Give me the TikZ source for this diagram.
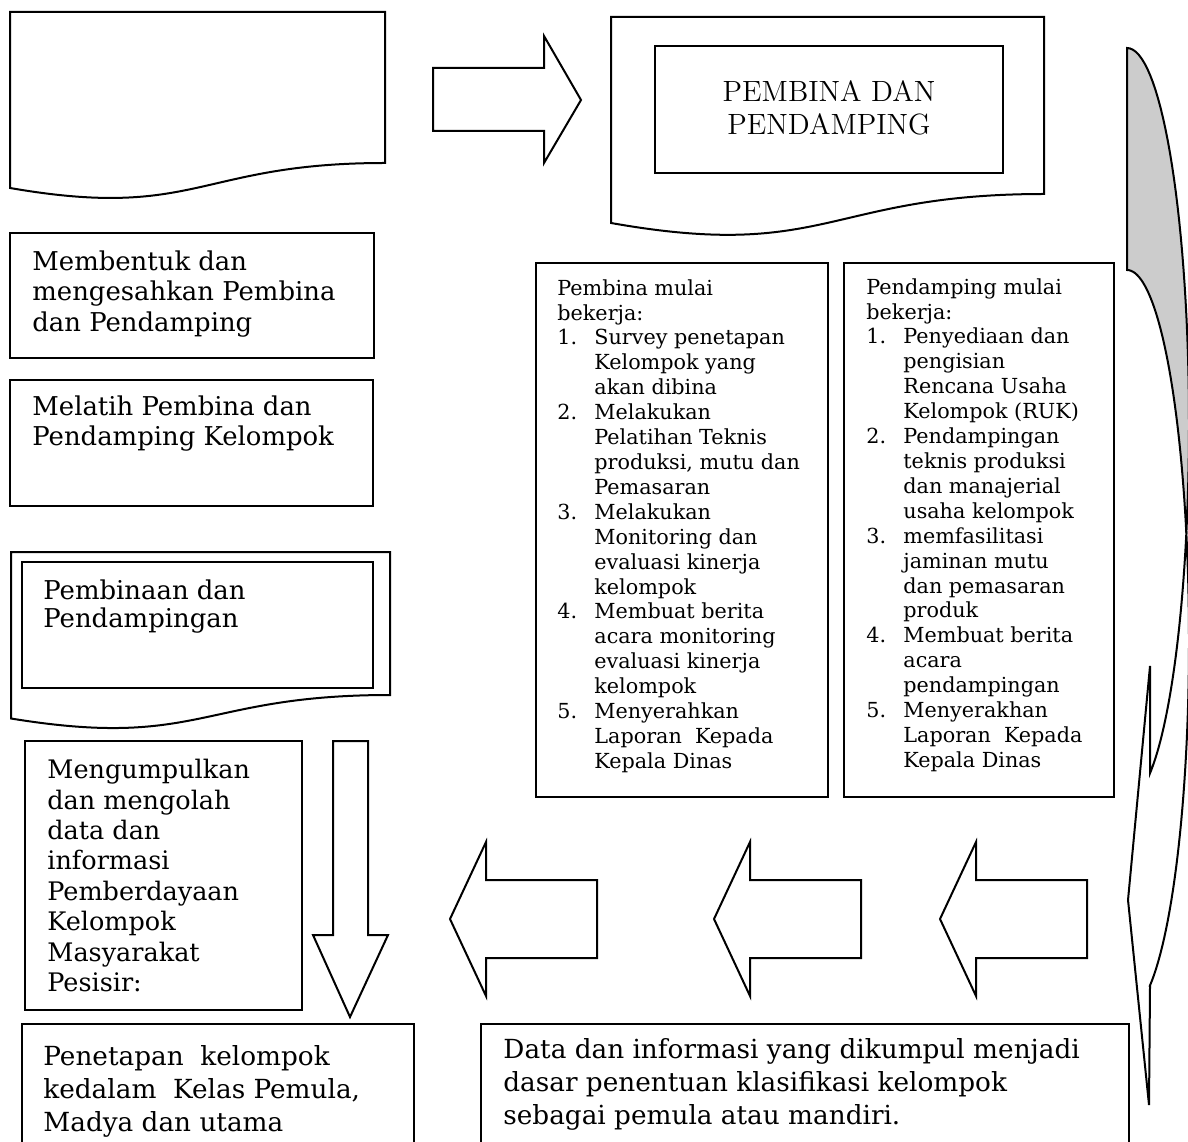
\documentclass[tikz,border=0pt]{standalone}
\usepackage{fontspec}
\newfontfamily\bodyfont{DejaVu Serif}
\newcommand\numitem[1]{\makebox[18.5bp][l]{#1}}

\begin{document}
\begin{tikzpicture}[x=0.5bp,y=-0.5bp,
  tepi/.style={draw,line width=1bp,line join=miter},
  bigtxt/.style={anchor=north west,inner sep=0pt,align=left,font=\bodyfont\fontsize{13}{15.5}\selectfont},
  smalltxt/.style={anchor=north west,inner sep=0pt,align=left,font=\bodyfont\fontsize{10.4}{12.5}\selectfont}]
\clip (0,0) rectangle (1188,1142);
% top row
\draw[tepi] (10,12) -- (385,12) -- (385,163) .. controls (197.5,163) and (197.5,220.5) .. (10,188) -- cycle;
\draw[tepi] (433,68) -- (544,68) -- (544,36) -- (581,100) -- (544,163) -- (544,131) -- (433,131) -- cycle;
\draw[tepi] (611,17) -- (1044,17) -- (1044,194) .. controls (827.5,194) and (827.5,261.4) .. (611,223) -- cycle;
\draw[tepi] (655,46) rectangle (1003,173);
\node[font=\fontsize{14.7}{16.5}\selectfont,align=center,inner sep=0pt] (judul) at (829,108) {PEMBINA DAN\\PENDAMPING};

% left column
\draw[tepi] (10,233) rectangle (374,358);
\node[bigtxt] (membentuk) at (32,250) {Membentuk dan\\mengesahkan Pembina\\dan Pendamping};
\draw[tepi] (10,380) rectangle (373,506);
\node[bigtxt] (melatih) at (32,395) {Melatih Pembina dan\\Pendamping Kelompok};
\draw[tepi] (11,552) -- (390,552) -- (390,695) .. controls (200.5,695) and (200.5,749.5) .. (11,718.5) -- cycle;
\draw[tepi] (22,562) rectangle (373,688);
\node[bigtxt,font=\bodyfont\fontsize{13}{14.5}\selectfont] (pembinaan) at (43,579) {Pembinaan dan\\Pendampingan};
\draw[tepi] (25,741) rectangle (302,1010);
\node[bigtxt,font=\bodyfont\fontsize{12.8}{15.25}\selectfont] (mengumpulkan) at (47,759)
  {Mengumpulkan\\dan mengolah\\data dan\\informasi\\Pemberdayaan\\Kelompok\\Masyarakat\\Pesisir:};
\draw[tepi] (333,741) -- (368,741) -- (368,935) -- (388,935) -- (350,1017) -- (313,935) -- (333,935) -- cycle;

% bottom row
\draw[tepi] (22,1024) rectangle (414,1160);
\node[bigtxt,font=\bodyfont\fontsize{13.2}{16.5}\selectfont] (penetapan) at (43,1045)
  {Penetapan~ kelompok\\kedalam~ Kelas Pemula,\\Madya dan utama};
\draw[tepi] (481,1024) rectangle (1129,1160);
\node[bigtxt,font=\bodyfont\fontsize{13.2}{16.5}\selectfont] (data) at (503,1038)
  {Data dan informasi yang dikumpul menjadi\\dasar penentuan klasifikasi kelompok\\sebagai pemula atau mandiri.};

% pembina / pendamping tasks
\draw[tepi] (536,263) rectangle (828,797);
\node[smalltxt] (pembina) at (557,279) {Pembina mulai\\bekerja:\\
  \numitem{1.}Survey penetapan\\\numitem{}Kelompok yang\\\numitem{}akan dibina\\
  \numitem{2.}Melakukan\\\numitem{}Pelatihan Teknis\\\numitem{}produksi, mutu dan\\\numitem{}Pemasaran\\
  \numitem{3.}Melakukan\\\numitem{}Monitoring dan\\\numitem{}evaluasi kinerja\\\numitem{}kelompok\\
  \numitem{4.}Membuat berita\\\numitem{}acara monitoring\\\numitem{}evaluasi kinerja\\\numitem{}kelompok\\
  \numitem{5.}Menyerahkan\\\numitem{}Laporan~ Kepada\\\numitem{}Kepala Dinas};
\draw[tepi] (844,263) rectangle (1114,797);
\node[smalltxt] (pendamping) at (866,278) {Pendamping mulai\\bekerja:\\
  \numitem{1.}Penyediaan dan\\\numitem{}pengisian\\\numitem{}Rencana Usaha\\\numitem{}Kelompok (RUK)\\
  \numitem{2.}Pendampingan\\\numitem{}teknis produksi\\\numitem{}dan manajerial\\\numitem{}usaha kelompok\\
  \numitem{3.}memfasilitasi\\\numitem{}jaminan mutu\\\numitem{}dan pemasaran\\\numitem{}produk\\
  \numitem{4.}Membuat berita\\\numitem{}acara\\\numitem{}pendampingan\\
  \numitem{5.}Menyerakhan\\\numitem{}Laporan~ Kepada\\\numitem{}Kepala Dinas};

% arrows to the left
\foreach \tip/\ujung in {450/597,714/861,940/1087}
  \draw[tepi] (\tip,919) -- ({\tip+36},842) -- ({\tip+36},880) -- (\ujung,880)
    -- (\ujung,958) -- ({\tip+36},958) -- ({\tip+36},996) -- cycle;

% curved arrow on the right
\filldraw[tepi,fill=black!20] (1127,270) -- (1127,48)
  -- plot[domain=90:-16.7,samples=40,variable=\t] ({1127+62*cos(\t)},{424-376*sin(\t)})
  -- plot[domain=17.1:90,samples=40,variable=\t] ({1127+62*cos(\t)},{641-371*sin(\t)})
  -- cycle;
\filldraw[tepi,fill=white] plot[domain=-16.7:-68.2,samples=40,variable=\t] ({1127+62*cos(\t)},{424-376*sin(\t)})
  -- (1150,666) -- (1128,900) -- (1149,1105) -- (1150,986)
  -- plot[domain=-68.4:17.1,samples=40,variable=\t] ({1127+62*cos(\t)},{641-371*sin(\t)})
  -- cycle;
\end{tikzpicture}
\end{document}
